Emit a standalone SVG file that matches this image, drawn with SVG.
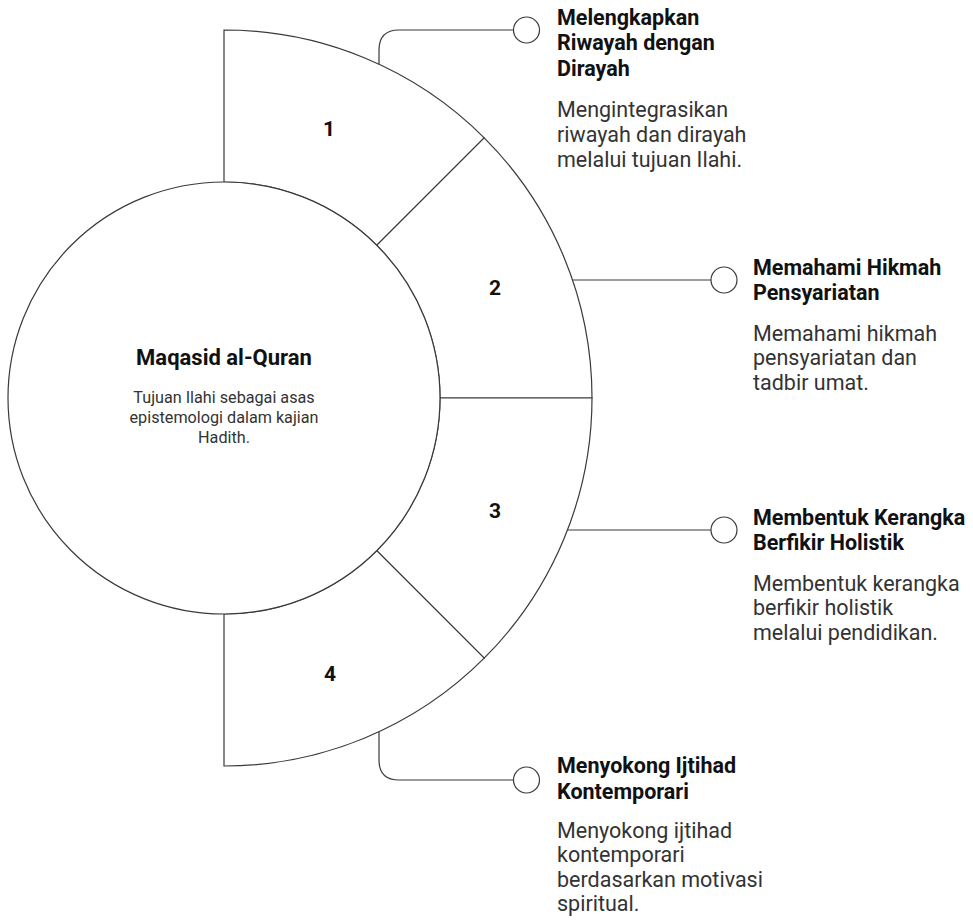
<svg xmlns="http://www.w3.org/2000/svg" width="973" height="921" viewBox="0 0 973 921">
<style>
.seg{fill:#fff;stroke:#3a3a3a;stroke-width:1.2}
.hub{fill:#fff;stroke:#3a3a3a;stroke-width:1.2}
.con{fill:none;stroke:#3a3a3a;stroke-width:1.2}
.dot{fill:#fff;stroke:#3a3a3a;stroke-width:1.2}
.num{font-family:Roboto,"Liberation Sans",sans-serif;font-weight:700;font-size:21px;fill:#111;text-anchor:middle}
.ttl{font-family:Roboto,"Liberation Sans",sans-serif;font-weight:700;font-size:21.5px;fill:#111}
.dsc{font-family:Roboto,"Liberation Sans",sans-serif;font-size:21.5px;fill:#333}
.ctl{font-family:Roboto,"Liberation Sans",sans-serif;font-weight:700;font-size:22px;fill:#111;text-anchor:middle}
.cds{font-family:Roboto,"Liberation Sans",sans-serif;font-size:16.2px;fill:#333;text-anchor:middle}
</style>
<rect width="973" height="921" fill="#fff"/>
<g id="segment-1"><path class="seg" d="M224 30 A368 368 0 0 1 484.2 137.8 L376.7 245.3 A216 216 0 0 0 224 182 Z"/><text class="num" x="329" y="136">1</text></g>
<g id="segment-2"><path class="seg" d="M484.2 137.8 A368 368 0 0 1 592 398 L440 398 A216 216 0 0 0 376.7 245.3 Z"/><text class="num" x="495" y="295">2</text></g>
<g id="segment-3"><path class="seg" d="M592 398 A368 368 0 0 1 484.2 658.2 L376.7 550.7 A216 216 0 0 0 440 398 Z"/><text class="num" x="495" y="518">3</text></g>
<g id="segment-4"><path class="seg" d="M484.2 658.2 A368 368 0 0 1 224 766 L224 614 A216 216 0 0 0 376.7 550.7 Z"/><text class="num" x="330" y="681">4</text></g>
<g id="hub"><circle class="hub" cx="224" cy="398" r="216"/>
<text class="ctl" x="224" y="365">Maqasid al-Quran</text>
<text class="cds" x="224" y="403">Tujuan Ilahi sebagai asas</text>
<text class="cds" x="224" y="423">epistemologi dalam kajian</text>
<text class="cds" x="224" y="443">Hadith.</text></g>
<g id="connectors">
<path class="con" d="M379 64.2 L379 50 Q379 30 399 30 L513.5 30"/>
<path class="con" d="M572.6 280 L711 280"/>
<path class="con" d="M567.5 530 L711 530"/>
<path class="con" d="M379 731.8 L379 760 Q379 780 399 780 L513.5 780"/>
</g>
<g id="item-1"><circle class="dot" cx="526.5" cy="30" r="13"/>
<text class="ttl" x="557" y="25">Melengkapkan</text>
<text class="ttl" x="557" y="50">Riwayah dengan</text>
<text class="ttl" x="557" y="76">Dirayah</text>
<text class="dsc" x="557" y="117">Mengintegrasikan</text>
<text class="dsc" x="557" y="142">riwayah dan dirayah</text>
<text class="dsc" x="557" y="167">melalui tujuan Ilahi.</text></g>
<g id="item-2"><circle class="dot" cx="724" cy="280" r="13"/>
<text class="ttl" x="753" y="275">Memahami Hikmah</text>
<text class="ttl" x="753" y="300">Pensyariatan</text>
<text class="dsc" x="753" y="341">Memahami hikmah</text>
<text class="dsc" x="753" y="365">pensyariatan dan</text>
<text class="dsc" x="753" y="390">tadbir umat.</text></g>
<g id="item-3"><circle class="dot" cx="724" cy="530" r="13"/>
<text class="ttl" x="753" y="525">Membentuk Kerangka</text>
<text class="ttl" x="753" y="550">Berfikir Holistik</text>
<text class="dsc" x="753" y="591">Membentuk kerangka</text>
<text class="dsc" x="753" y="615">berfikir holistik</text>
<text class="dsc" x="753" y="640">melalui pendidikan.</text></g>
<g id="item-4"><circle class="dot" cx="526.5" cy="780" r="13"/>
<text class="ttl" x="557" y="773">Menyokong Ijtihad</text>
<text class="ttl" x="557" y="799">Kontemporari</text>
<text class="dsc" x="557" y="838">Menyokong ijtihad</text>
<text class="dsc" x="557" y="862">kontemporari</text>
<text class="dsc" x="557" y="887">berdasarkan motivasi</text>
<text class="dsc" x="557" y="911">spiritual.</text></g>
</svg>
